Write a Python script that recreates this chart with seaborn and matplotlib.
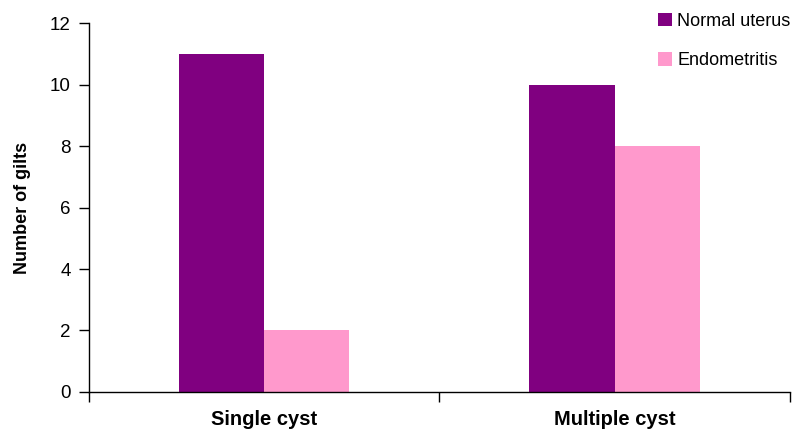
import matplotlib
matplotlib.use("Agg")
import matplotlib.pyplot as plt
import seaborn as sns
import pandas as pd
from matplotlib.patches import Patch
from matplotlib.ticker import FixedLocator, MultipleLocator

categories = ["Single cyst", "Multiple cyst"]
series_names = ["Normal uterus", "Endometritis"]
normal_uterus = [11, 10]
endometritis = [2, 8]
colors = ["#800080", "#FF99CC"]

df = pd.DataFrame({
    "category": categories * 2,
    "group": [series_names[0]] * 2 + [series_names[1]] * 2,
    "value": normal_uterus + endometritis,
})

sns.set_style("white")
plt.rcParams["font.family"] = ["Liberation Sans", "DejaVu Sans"]
for key in ["text.color", "axes.labelcolor", "xtick.color", "ytick.color"]:
    plt.rcParams[key] = "black"

fig = plt.figure(figsize=(8.01, 4.36), dpi=100)
ax = fig.add_axes([0.111, 0.101, 0.875, 0.846])

sns.barplot(data=df, x="category", y="value", hue="group",
            order=categories, hue_order=series_names,
            palette=colors, width=0.486, gap=0, saturation=1,
            linewidth=0, legend=False, ax=ax)

ax.set_xlim(-0.5, 1.5)
ax.set_ylim(0, 12)
ax.yaxis.set_major_locator(MultipleLocator(2))
ax.set_xlabel("")
ax.set_ylabel("Number of gilts", fontsize=13, fontweight="bold", labelpad=14,
              color="black")

for s in ["top", "right"]:
    ax.spines[s].set_visible(False)
for s in ["left", "bottom"]:
    ax.spines[s].set_color("black")
    ax.spines[s].set_linewidth(1.0)

ax.tick_params(axis="y", direction="out", length=7, width=1, colors="black",
               labelsize=13.5, pad=6, left=True)
ax.tick_params(axis="x", which="major", length=0, pad=13, labelsize=14.5,
               labelcolor="black")
for lbl in ax.get_xticklabels():
    lbl.set_fontweight("bold")
ax.xaxis.set_minor_locator(FixedLocator([-0.5, 0.5, 1.5]))
ax.tick_params(axis="x", which="minor", direction="out", length=7, width=1,
               color="black", bottom=True)

handles = [Patch(facecolor=c, edgecolor="none") for c in colors]
fig.legend(handles, series_names, loc="upper left", bbox_to_anchor=(0.806, 1.0),
           frameon=False, fontsize=13, handlelength=0.75, handleheight=0.75,
           handletextpad=0.3, labelspacing=1.25, borderaxespad=0.3,
           labelcolor="black")

fig.savefig("out.png", dpi=100)
